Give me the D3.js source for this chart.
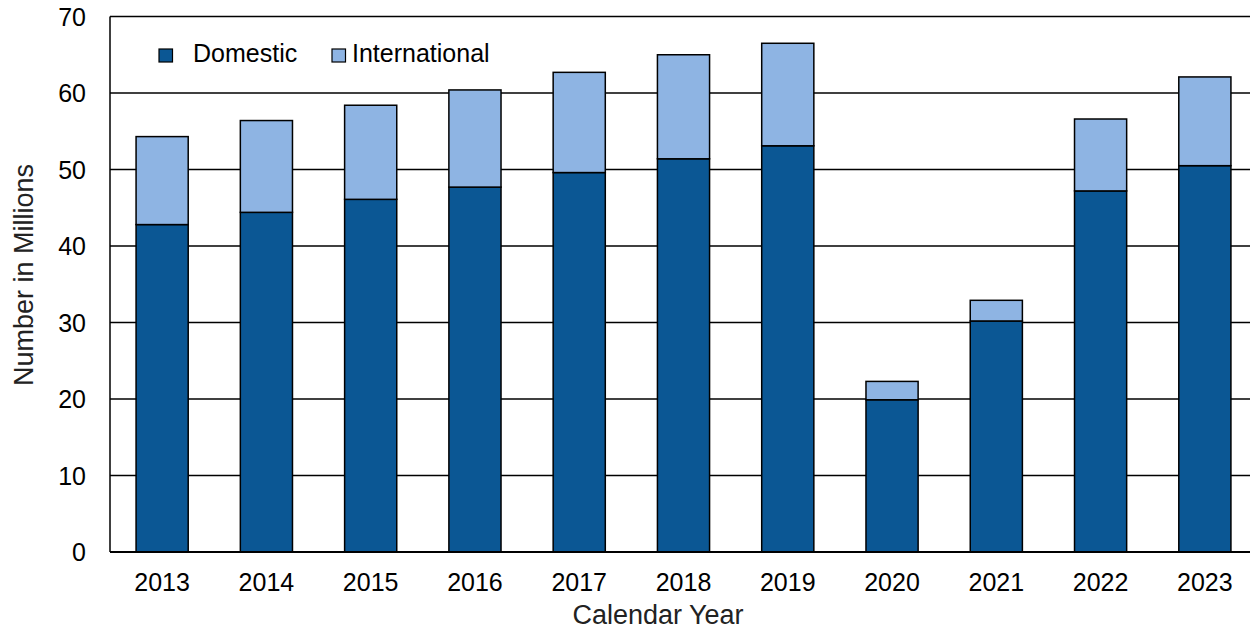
<!DOCTYPE html>
<html><head><meta charset="utf-8">
<script src="https://cdn.jsdelivr.net/npm/d3@7"></script>
<style>body{margin:0;background:#fff}svg{display:block;font-family:Arial,"Liberation Sans",sans-serif}</style>
</head><body><svg id="c" width="1250" height="629"></svg>
<script>
const years = ["2013","2014","2015","2016","2017","2018","2019","2020","2021","2022","2023"];
const domestic = [42.8,44.4,46.1,47.7,49.6,51.4,53.1,19.9,30.2,47.2,50.5];
const international = [11.5,12.0,12.3,12.7,13.1,13.6,13.4,2.4,2.7,9.4,11.6];
const yTicks = [0,10,20,30,40,50,60,70];
const seriesNames = ["Domestic","International"];
const colors = ["#0b5794","#8eb4e3"];

const svg = d3.select("#c");
const L = 110, R = 1257, T = 16.5, B = 552;
const x = d3.scaleBand().domain(years).range([L, R]).paddingInner(0.5).paddingOuter(0.25);
const y = d3.scaleLinear().domain([0,70]).range([B, T]);

// gridlines
svg.append("g").selectAll("line").data(yTicks.filter(d=>d>0)).join("line")
  .attr("x1", L).attr("x2", R).attr("y1", d=>y(d)).attr("y2", d=>y(d))
  .attr("stroke","#000").attr("stroke-width",1.3);

const rows = years.map((yr,i)=>({year:yr, Domestic:domestic[i], International:international[i]}));
const stack = d3.stack().keys(seriesNames)(rows);
svg.append("g").selectAll("g").data(stack).join("g")
  .attr("fill",(d,i)=>colors[i])
  .selectAll("rect").data(d=>d).join("rect")
  .attr("x", d=>x(d.data.year)).attr("width", x.bandwidth())
  .attr("y", d=>y(d[1])).attr("height", d=>y(d[0])-y(d[1]))
  .attr("stroke","#000").attr("stroke-width",1.5);

// frame
svg.append("line").attr("x1",L).attr("x2",L).attr("y1",T).attr("y2",B).attr("stroke","#000").attr("stroke-width",1.5);
svg.append("line").attr("x1",L).attr("x2",R).attr("y1",B).attr("y2",B).attr("stroke","#000").attr("stroke-width",2);

// y tick labels
svg.append("g").selectAll("text").data(yTicks).join("text")
  .attr("x", 86).attr("y", d=>y(d)).attr("dy","0.36em")
  .attr("text-anchor","end").attr("font-size",25).attr("fill","#000").text(d=>d);

// x tick labels
svg.append("g").selectAll("text").data(years).join("text")
  .attr("x", d=>x(d)+x.bandwidth()/2).attr("y", 591)
  .attr("text-anchor","middle").attr("font-size",25).attr("fill","#000").text(d=>d);

// axis titles
svg.append("text").attr("x",658).attr("y",624).attr("text-anchor","middle")
  .attr("font-size",27).attr("fill","#222").text("Calendar Year");
svg.append("text").attr("transform","translate(33,275) rotate(-90)").attr("text-anchor","middle")
  .attr("font-size",27).attr("fill","#222").text("Number in Millions");

// legend
const lg = [{n:"Domestic", sx:159, tx:193},{n:"International", sx:332, tx:352}];
lg.forEach((d,i)=>{
  svg.append("rect").attr("x",d.sx).attr("y",49).attr("width",13.5).attr("height",13)
    .attr("fill",colors[i]).attr("stroke","#000").attr("stroke-width",1.2);
  svg.append("text").attr("x",d.tx).attr("y",62).attr("font-size",25).attr("fill","#000").text(d.n);
});
</script></body></html>
